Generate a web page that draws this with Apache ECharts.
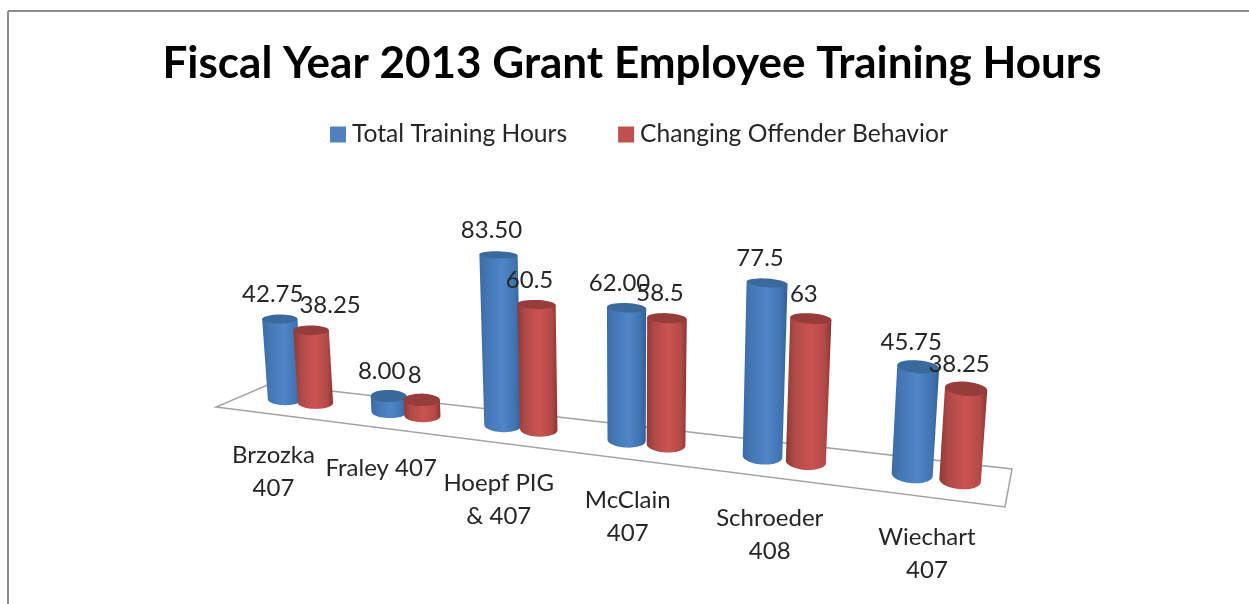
<!DOCTYPE html>
<html><head><meta charset="utf-8">
<script src="https://cdn.jsdelivr.net/npm/echarts@6/dist/echarts.min.js"></script>
<style>html,body{margin:0;padding:0;background:#fff}#c{width:1249px;height:604px}</style>
</head><body><div id="c"></div>
<script>
const chartTitle = 'Fiscal Year 2013 Grant Employee Training Hours';
const categories = ['Brzozka\n407', 'Fraley 407', 'Hoepf PIG\n& 407', 'McClain\n407', 'Schroeder\n408', 'Wiechart\n407'];
const totalHours = [42.75, 8, 83.5, 62, 77.5, 45.75];
const offenderHours = [38.25, 8, 60.5, 58.5, 63, 38.25];
const totalLabels = ['42.75', '8.00', '83.50', '62.00', '77.5', '45.75'];
const offenderLabels = ['38.25', '8', '60.5', '58.5', '63', '38.25'];
const seriesNames = ['Total Training Hours', 'Changing Offender Behavior'];

const FONT = 'Lato';
const TEXT = '#262626';
// Floor plane corners on screen: front-left, front-right, back-right, back-left
const Q = {FL:[216,407], FR:[1005,507], BR:[1012,469], BL:[270,384]};
const det = (Q.FR[0]-Q.BR[0])*(Q.BL[1]-Q.BR[1]) - (Q.FR[1]-Q.BR[1])*(Q.BL[0]-Q.BR[0]);
const sx = Q.FL[0]-Q.FR[0]+Q.BR[0]-Q.BL[0], sy = Q.FL[1]-Q.FR[1]+Q.BR[1]-Q.BL[1];
const G = (sx*(Q.BL[1]-Q.BR[1]) - sy*(Q.BL[0]-Q.BR[0]))/det;
const H = ((Q.FR[0]-Q.BR[0])*sy - (Q.FR[1]-Q.BR[1])*sx)/det;
function project(u, w) {
  const W = 1 + G*u + H*w;
  return {
    x: (Q.FL[0] + u*(G*Q.FR[0]+Q.FR[0]-Q.FL[0]) + w*(H*Q.BL[0]+Q.BL[0]-Q.FL[0]))/W,
    y: (Q.FL[1] + u*(G*Q.FR[1]+Q.FR[1]-Q.FL[1]) + w*(H*Q.BL[1]+Q.BL[1]-Q.FL[1]))/W,
    W
  };
}
const DEPTH = 0.53, USHIFT = 0.009, VP_X = 630, VP_Y = 5500;

function ellipsePts(cx, cy, rx, ry, ang, from, to, n) {
  const pts = [], c = Math.cos(ang), s = Math.sin(ang);
  for (let i = 0; i <= n; i++) {
    const t = from + (to-from)*i/n;
    const ex = rx*Math.cos(t), ey = ry*Math.sin(t);
    pts.push([cx + ex*c - ey*s, cy + ex*s + ey*c]);
  }
  return pts;
}
const ryRatio = Y => 0.18 + (Y-252)*0.0011;

function cylinder(colors, offsetBand, labels, nudge) {
  return function (params, api) {
    const i = api.value(0), v = api.value(1);
    const cs = params.coordSys;
    const band = api.size([1,0])[0];
    const p = api.coord([i, 0]);
    const u = (p[0] + offsetBand*band - cs.x)/cs.width + USHIFT;
    const b = project(u, DEPTH);
    const unit = 1/b.W;
    const h = api.size([0, v])[1]*unit;
    const rx = 17.6*Math.pow(unit, 0.75);
    const depthY = VP_Y - b.y;
    const tx = b.x + (b.x-VP_X)*h/depthY, ty = b.y - h;
    const rxTop = rx*(1 + h/depthY);
    const ang = (b.x-300)/630*5*Math.PI/180;
    const topPts = ellipsePts(tx, ty, rxTop, rxTop*ryRatio(ty), ang, 0, Math.PI*2, 40);
    const botHalf = ellipsePts(b.x, b.y, rx, rx*ryRatio(b.y), ang, 0, Math.PI, 24);
    const tr = ellipsePts(tx, ty, rxTop, rxTop*ryRatio(ty), ang, 0, 0, 1)[0];
    const tl = ellipsePts(tx, ty, rxTop, rxTop*ryRatio(ty), ang, Math.PI, Math.PI, 1)[0];
    const side = [tr].concat(botHalf).concat([tl]);
    return {type:'group', children:[
      {type:'polygon', shape:{points:side}, style:{fill:{type:'linear',x:0,y:0,x2:1,y2:0,colorStops:colors.side}}},
      {type:'polygon', shape:{points:topPts}, style:{fill:colors.top}},
      {type:'text', z2:50, style:{text:labels[i], x:tx-7+(nudge[i]||0), y:ty-24.5, fontFamily:FONT, fontSize:24, fill:TEXT, align:'center', verticalAlign:'middle'}}
    ]};
  };
}
const BLUE = {top:'#3a6a9b', side:[{offset:0,color:'#3a6ca4'},{offset:0.2,color:'#4477b4'},{offset:0.55,color:'#5086c8'},{offset:0.85,color:'#3f73b0'},{offset:1,color:'#345f96'}]};
const RED = {top:'#963c3a', side:[{offset:0,color:'#8f3836'},{offset:0.2,color:'#b04a47'},{offset:0.55,color:'#ca5451'},{offset:0.85,color:'#b44a47'},{offset:1,color:'#8a3533'}]};

function floorItem(params, api) {
  const i = api.value(0);
  const cs = params.coordSys;
  const p = api.coord([i, 0]);
  const f = project((p[0]-cs.x)/cs.width, 0);
  const children = [{type:'text', style:{text:categories[i], x:f.x+7, y:f.y+25, fontFamily:FONT, fontSize:24, lineHeight:33, fill:TEXT, align:'center', verticalAlign:'top'}}];
  if (i === 0) children.unshift({type:'polygon', shape:{points:[Q.FL,Q.FR,Q.BR,Q.BL]}, style:{fill:'#fff', stroke:'#a3a3a3', lineWidth:1.5}});
  return {type:'group', children};
}

const chart = echarts.init(document.getElementById('c'), null, {renderer:'canvas'});
chart.setOption({
  animation:false,
  backgroundColor:'#fff',
  title:{text:chartTitle, left:627, top:37, textAlign:'center', textStyle:{fontFamily:FONT, fontWeight:'bold', fontSize:44, color:'#000'}},
  legend:{data:seriesNames, left:325, top:117, icon:'rect', itemWidth:16, itemHeight:16, itemGap:51, selectedMode:false, textStyle:{fontFamily:FONT, fontSize:24.6, color:TEXT, padding:[0,0,0,1]}},
  // Flat plot space; every renderItem projects it onto the tilted floor plane.
  grid:{left:216, width:789, top:100, height:191},
  xAxis:{type:'category', data:categories, show:false},
  yAxis:{type:'value', min:0, max:100, show:false},
  graphic:[
    {type:'line', shape:{x1:8,y1:11,x2:8,y2:604}, style:{stroke:'#8c8c8c',lineWidth:2}},
    {type:'line', shape:{x1:8,y1:11,x2:1249,y2:11}, style:{stroke:'#8c8c8c',lineWidth:2}}
  ],
  series:[
    {type:'custom', name:'floor', clip:false, silent:true, renderItem:floorItem, encode:{x:0}, data:categories.map((c,i)=>[i])},
    {type:'custom', name:seriesNames[0], clip:false, itemStyle:{color:'#4f81bd'}, renderItem:cylinder(BLUE,-0.15,totalLabels,{}), encode:{x:0,y:1}, data:totalHours.map((v,i)=>[i,v])},
    {type:'custom', name:seriesNames[1], clip:false, itemStyle:{color:'#c0504d'}, renderItem:cylinder(RED,0.15,offenderLabels,{0:26}), encode:{x:0,y:1}, data:offenderHours.map((v,i)=>[i,v])}
  ]
});
</script></body></html>
